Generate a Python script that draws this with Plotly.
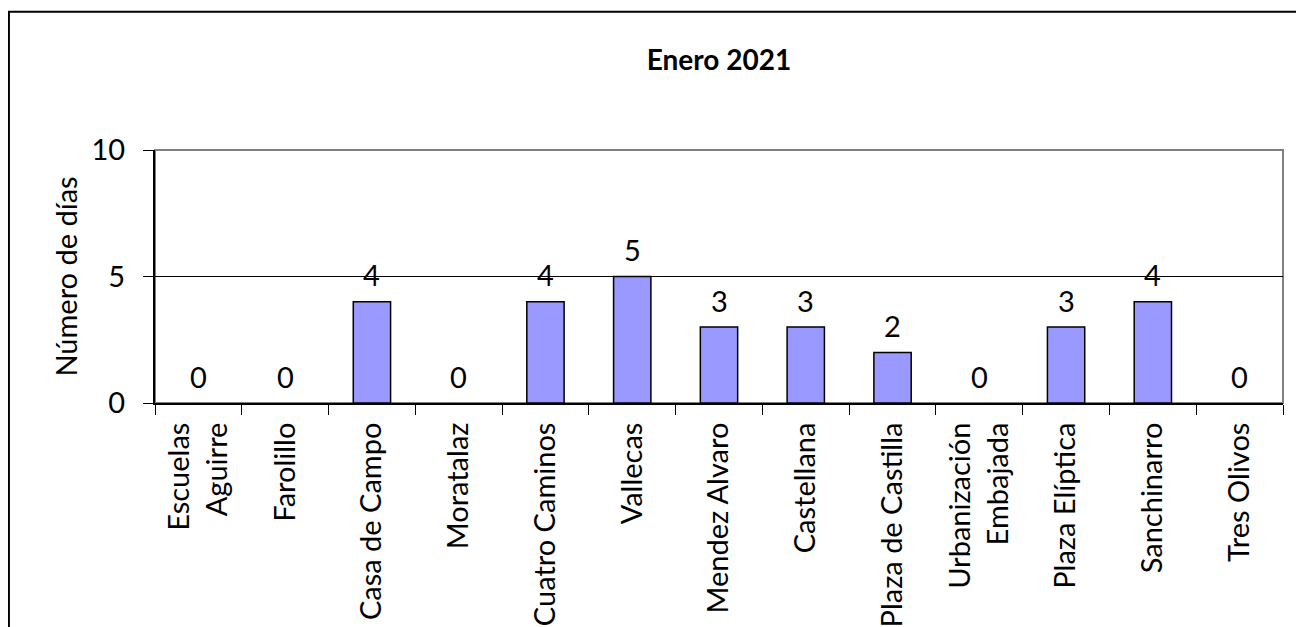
import plotly.graph_objects as go

stations = ["Escuelas<br>Aguirre", "Farolillo", "Casa de Campo", "Moratalaz", "Cuatro Caminos",
            "Vallecas", "Mendez Alvaro", "Castellana", "Plaza de Castilla", "Urbanización<br>Embajada",
            "Plaza Elíptica", "Sanchinarro", "Tres Olivos"]
days = [0, 0, 4, 0, 4, 5, 3, 3, 2, 0, 3, 4, 0]
y_ticks = [0, 5, 10]
title_text = "Enero 2021"
y_title = "Número de días"

FONT = "Lato"
FS = 29

fig = go.Figure()
fig.add_trace(go.Bar(
    x=stations, y=days,
    marker=dict(color="#9999FF",
                line=dict(color="black", width=[1.5 if v > 0 else 0 for v in days])),
    width=0.43,
))

for s, v in zip(stations, days):
    fig.add_annotation(x=s, y=v, text=str(v), showarrow=False, yanchor="middle",
                       yshift=27, font=dict(family=FONT, size=FS, color="black"))

# plot-area border (gray top/right) and gridline at 5
fig.add_shape(type="rect", xref="paper", yref="paper", x0=0, x1=1, y0=0, y1=1,
              line=dict(color="#808080", width=2), layer="below")
fig.add_shape(type="line", xref="paper", yref="y", x0=0, x1=1, y0=y_ticks[1], y1=y_ticks[1],
              line=dict(color="black", width=1), layer="below")
# outer chart frame
fig.add_shape(type="rect", xref="paper", yref="paper", x0=-0.1295, x1=1.05, y0=-1.2, y1=1.546,
              line=dict(color="black", width=2))

# page body has an 8px margin, so the figure is sized/placed to compensate
fig.update_layout(
    width=1296, height=619,
    margin=dict(l=147, r=21, t=142, b=224),
    paper_bgcolor="white", plot_bgcolor="white",
    showlegend=False,
    font=dict(family=FONT, size=FS, color="black"),
    title=dict(text="<b>" + title_text + "</b>", x=0.5, xref="paper", xanchor="center",
               y=1 - 52 / 619, yanchor="middle", font=dict(family=FONT, size=28)),
    bargap=0.57,
)
fig.update_xaxes(
    tickangle=-90, ticks="outside", tickson="boundaries", ticklen=10, tickcolor="black",
    showline=True, linecolor="black", linewidth=2, showgrid=False, automargin=False,
    ticklabelstandoff=6,
    tickfont=dict(family=FONT, size=FS),
)
fig.update_yaxes(
    range=[0, 10], tickvals=y_ticks, ticks="outside", ticklen=10, tickcolor="black",
    showline=True, linecolor="black", linewidth=2, showgrid=False, zeroline=False,
    ticklabelstandoff=12, automargin=False,
    title=dict(text=y_title, font=dict(family=FONT, size=FS), standoff=5),
    tickfont=dict(family=FONT, size=FS),
)

fig.write_html("out.html")
